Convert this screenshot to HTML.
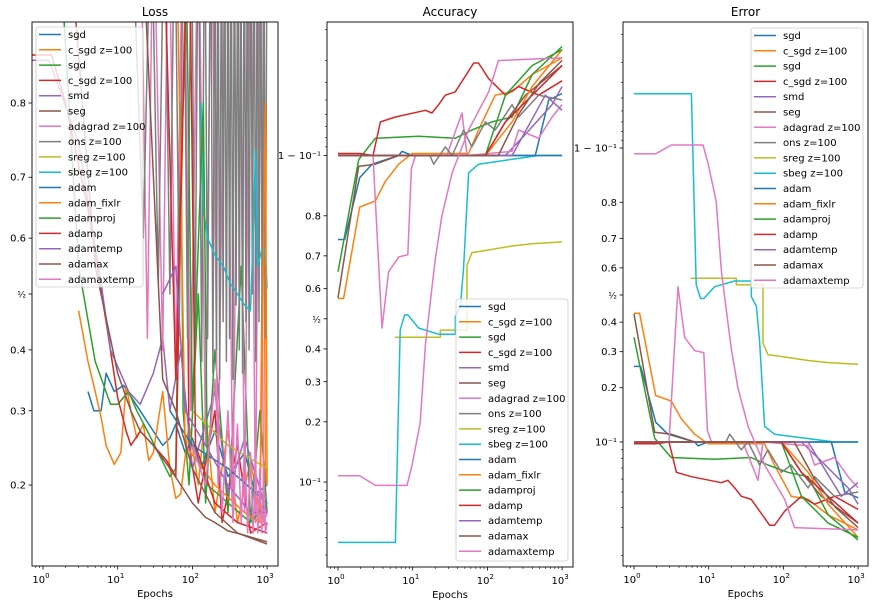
<!DOCTYPE html>
<html><head><meta charset="utf-8"><style>
html,body{margin:0;padding:0;background:#fff;}
svg{display:block;font-family:"DejaVu Sans","Liberation Sans",sans-serif;}
</style></head><body>
<svg id="c" width="875" height="608" viewBox="0 0 875 608" xmlns="http://www.w3.org/2000/svg"></svg>
<script>
// ---------- data ----------
const seriesNames = ["sgd","c_sgd z=100","sgd","c_sgd z=100","smd","seg","adagrad z=100","ons z=100","sreg z=100","sbeg z=100","adam","adam_fixlr","adamproj","adamp","adamtemp","adamax","adamaxtemp"];
const seriesColors = ["#1f77b4","#ff7f0e","#2ca02c","#d62728","#9467bd","#8c564b","#e377c2","#7f7f7f","#bcbd22","#17becf","#1f77b4","#ff7f0e","#2ca02c","#d62728","#9467bd","#8c564b","#e377c2"];
const xTickValues = [1,10,100,1000];
const xTickExps = ["0","1","2","3"];
const lossTickValues = [0.8,0.7,0.6,0.5,0.4,0.3,0.2];
const lossTickLabels = ["0.8","0.7","0.6","½","0.4","0.3","0.2"];
const probTickValues = [0.9,0.8,0.7,0.6,0.5,0.4,0.3,0.2,0.1];
const probTickLabels = ["1 − 10⁻¹","0.8","0.7","0.6","½","0.4","0.3","0.2","10⁻¹"];
const probMinorTicks = [0.91,0.92,0.93,0.94,0.95,0.96,0.97,0.98,0.99,0.01,0.02,0.03,0.04,0.05,0.06,0.07,0.08,0.09];

// Loss series: [epoch, loss]
const lossSgd = [[4,0.33],[4.8,0.30],[6,0.30],[7,0.36],[9,0.33],[12,0.34],[20,0.30],[30,0.27],[40,0.25],[50,0.26],[60,0.28],[80,0.24],[100,0.26],[130,0.22],[200,0.27],[300,0.21],[500,0.24],[700,0.19],[1000,0.20]];
const lossCsgd = [[3,0.47],[4,0.38],[5,0.33],[6,0.29],[7,0.25],[9,0.225],[11,0.24],[13,0.34],[15,0.30],[18,0.26],[22,0.28],[26,0.23],[30,0.24],[40,0.33],[50,0.22],[60,0.185],[70,0.19],[90,0.28],[120,0.20],[150,0.30],[200,0.17],[300,0.27],[400,0.16],[600,0.23],[800,0.17],[900,0.80],[950,0.20],[1000,0.22]];
const lossSgd2 = [[1.5,0.95],[3,0.55],[5,0.38],[8,0.31],[10,0.31],[14,0.33],[18,0.30],[25,0.27],[35,0.24],[50,0.21],[60,0.22],[70,0.80],[75,0.30],[90,0.20],[120,0.50],[150,0.18],[200,0.40],[300,0.17],[450,0.55],[600,0.16],[800,0.30],[1000,0.17]];
const lossCsgd2 = [[0.7,0.85],[1.3,0.85],[2,0.80],[4,0.65],[7,0.45],[10,0.32],[13,0.27],[15,0.25],[20,0.27],[30,0.25],[45,0.23],[60,0.21],[80,0.90],[90,0.25],[120,0.18],[200,0.30],[250,0.16],[400,0.25],[600,0.15],[1000,0.16]];
const lossSmd = [[0.7,0.845],[1.2,0.845],[3,0.75],[6,0.52],[8,0.40],[14,0.33],[20,0.31],[30,0.36],[40,0.42],[50,0.30],[70,0.40],[100,0.22],[200,0.33],[300,0.19],[500,0.26],[1000,0.17]];
const lossSeg = [[2,0.95],[5,0.55],[10,0.36],[15,0.30],[20,0.27],[30,0.25],[50,0.22],[70,0.20],[100,0.18],[150,0.165],[200,0.16],[300,0.152],[500,0.148],[700,0.145],[1000,0.142]];
const lossAdagrad = [[20,0.95],[25,0.42],[30,0.95],[40,0.40],[48,0.95],[60,0.36],[75,0.95],[95,0.30],[120,0.95],[150,0.25],[180,0.95],[220,0.20],[280,0.95],[350,0.18],[420,0.95],[500,0.17],[600,0.95],[700,0.16],[800,0.95],[900,0.16],[1000,0.17]];
const lossOns = [[15,0.95],[22,0.60],[28,0.95],[35,0.52],[42,0.95],[50,0.50],[58,0.95],[67,0.46],[76,0.95],[86,0.42],[97,0.95],[108,0.40],[120,0.95],[133,0.38],[146,0.95],[160,0.42],[175,0.95],[188,0.36],[200,0.95],[210,0.40],[220,0.95],[232,0.35],[245,0.95],[258,0.45],[270,0.95],[285,0.38],[300,0.95],[315,0.42],[330,0.95],[348,0.35],[365,0.95],[385,0.48],[405,0.95],[425,0.40],[445,0.95],[470,0.36],[495,0.95],[520,0.45],[545,0.95],[575,0.40],[605,0.95],[635,0.50],[670,0.95],[705,0.38],[740,0.95],[780,0.45],[820,0.95],[860,0.40],[900,0.95],[950,0.42],[1000,0.95]];
const lossSreg = [[100,0.30],[300,0.25],[1000,0.22]];
const lossSbeg = [[130,0.80],[140,0.65],[160,0.60],[200,0.57],[260,0.55],[320,0.52],[400,0.50],[500,0.48],[600,0.47],[650,0.60],[700,0.74],[750,0.55],[850,0.58],[950,0.58],[1000,0.51]];
const lossAdam = [[50,0.30],[100,0.25],[300,0.22],[1000,0.18]];
const lossAdamFix = [[60,0.95],[80,0.25],[200,0.20],[500,0.17],[800,0.16],[950,0.80],[1000,0.20]];
const lossAdamProj = [[80,0.95],[100,0.30],[140,0.80],[160,0.20],[300,0.18],[600,0.16],[1000,0.18]];
const lossAdamP = [[40,0.95],[60,0.35],[90,0.95],[110,0.25],[200,0.18],[400,0.16],[1000,0.15]];
const lossAdamTemp = [[40,0.50],[60,0.55],[80,0.30],[150,0.25],[300,0.20],[600,0.17],[1000,0.17]];
const lossAdamax = [[20,0.95],[40,0.35],[60,0.30],[100,0.22],[200,0.17],[400,0.15],[1000,0.14]];
const lossAdamaxTemp = [[100,0.25],[150,0.20],[200,0.35],[250,0.17],[300,0.30],[350,0.16],[400,0.28],[450,0.16],[500,0.25],[550,0.15],[600,0.24],[650,0.15],[700,0.23],[750,0.15],[800,0.22],[850,0.15],[900,0.22],[950,0.15],[1000,0.16]];

// Error series: [epoch, error]; accuracy = 1 - error
const errSgd = [[1,0.256],[1.23,0.256],[1.95,0.130],[2.85,0.111],[6.5,0.100],[7.2,0.095],[9.8,0.100],[438,0.100],[662,0.050],[1000,0.046]];
const errCsgd = [[1,0.432],[1.19,0.432],[1.95,0.182],[3.16,0.170],[4.3,0.136],[6.5,0.111],[9.8,0.0976],[56,0.0976],[76,0.073],[127,0.047],[214,0.045],[398,0.036],[1000,0.029]];
const errSgd2 = [[1,0.347],[1.89,0.105],[3.16,0.081],[12,0.079],[37,0.081],[62,0.073],[115,0.066],[214,0.062],[398,0.036],[1000,0.025]];
const errCsgd2 = [[1,0.0976],[1.95,0.0976],[2.94,0.1],[3.69,0.066],[5.86,0.062],[14.8,0.057],[18.1,0.059],[22.3,0.053],[27.3,0.047],[37.2,0.045],[65.5,0.031],[76,0.031],[104,0.038],[174,0.047],[262,0.042],[485,0.047],[1000,0.039]];
const errSmd = [[1,0.1],[174,0.1],[323,0.077],[734,0.053],[1000,0.042]];
const errSeg = [[1,0.43],[1.89,0.114],[3.16,0.111],[6.5,0.1],[94,0.1],[174,0.066],[323,0.047],[1000,0.032]];
const errAdagrad = [[1,0.1],[2.94,0.1],[3.88,0.531],[4.76,0.347],[6.5,0.303],[8.6,0.297],[9.6,0.117],[10.9,0.1],[28.8,0.1],[30,0.095],[45.7,0.059],[53.3,0.1],[214,0.095],[262,0.073],[485,0.081],[734,0.062],[1000,0.053]];
const errOns = [[1,0.1],[17,0.1],[19.1,0.111],[27.3,0.09],[33.7,0.1],[48,0.073],[62,0.09],[94,0.066],[127,0.073],[214,0.053],[262,0.062],[485,0.047],[1000,0.05]];
const errSreg = [[5.74,0.562],[23.4,0.562],[23.4,0.538],[53.3,0.538],[53.3,0.328],[62,0.291],[94,0.285],[214,0.273],[398,0.267],[1000,0.262]];
const errSbeg = [[1,0.953],[5.86,0.953],[6.8,0.538],[7.8,0.487],[8.6,0.487],[12,0.531],[22.3,0.552],[37.2,0.552],[37.2,0.494],[43.5,0.458],[48,0.334],[56,0.123],[76,0.111],[485,0.1],[1000,0.1]];
const errAdam = [[1,0.1],[1000,0.1]];
const errAdamFix = [[1,0.1],[94,0.1],[214,0.066],[398,0.042],[1000,0.026]];
const errAdamProj = [[1,0.1],[94,0.1],[174,0.047],[398,0.032],[1000,0.026]];
const errAdamP = [[1,0.1],[94,0.1],[174,0.066],[398,0.047],[1000,0.032]];
const errAdamTemp = [[1,0.1],[214,0.1],[596,0.047],[1000,0.057]];
const errAdamax = [[1,0.1],[140,0.1],[262,0.06],[500,0.04],[1000,0.03]];
const errAdamaxTemp = [[1,0.892],[1.95,0.892],[3.16,0.904],[8.4,0.904],[9.8,0.878],[12.6,0.802],[14.8,0.588],[17.2,0.444],[20.1,0.309],[24.6,0.2],[33.7,0.123],[56,0.073],[104,0.045],[141,0.030],[1000,0.029]];

const lossSeries = [lossSgd,lossCsgd,lossSgd2,lossCsgd2,lossSmd,lossSeg,lossAdagrad,lossOns,lossSreg,lossSbeg,lossAdam,lossAdamFix,lossAdamProj,lossAdamP,lossAdamTemp,lossAdamax,lossAdamaxTemp];
const errSeries = [errSgd,errCsgd,errSgd2,errCsgd2,errSmd,errSeg,errAdagrad,errOns,errSreg,errSbeg,errAdam,errAdamFix,errAdamProj,errAdamP,errAdamTemp,errAdamax,errAdamaxTemp];

// ---------- drawing ----------
const NS = "http://www.w3.org/2000/svg";
const svg = document.getElementById("c");
function mk(tag, attrs, parent){ const e=document.createElementNS(NS,tag); for(const k in attrs) e.setAttribute(k,attrs[k]); (parent||svg).appendChild(e); return e; }
const logit = v => Math.log(v/(1-v));

const panels = [
 {key:"loss", title:"Loss", L:32, R:278, T:22, B:566, x1:43, c:294, s:137.8, ticks:lossTickValues, labels:lossTickLabels, minor:[], series:lossSeries, val:v=>v, legend:{x:36,y:27,w:107,h:260}},
 {key:"accuracy", title:"Accuracy", L:327, R:573, T:22, B:567, x1:338, c:318.8, s:74.3, ticks:probTickValues, labels:probTickLabels, minor:probMinorTicks, series:errSeries, val:v=>1-v, legend:{x:456,y:299,w:112,h:262}},
 {key:"error", title:"Error", L:623, R:868, T:22, B:566, x1:634, c:295, s:66.9, ticks:probTickValues, labels:probTickLabels, minor:probMinorTicks, series:errSeries, val:v=>v, legend:{x:751,y:28,w:112,h:260}}
];
const DEC = 74.7;

panels.forEach((p, pi) => {
  const g = mk("g", {});
  
  
  const xs = e => p.x1 + DEC*Math.log10(e);
  const ys = v => p.c - p.s*logit(v);
  const cid = "clip"+pi;
  const cp = mk("clipPath", {id:cid}, g);
  mk("rect", {x:p.L, y:p.T, width:p.R-p.L, height:p.B-p.T}, cp);

  const sg = mk("g", {"clip-path":"url(#"+cid+")"}, g);
  p.series.forEach((arr, i) => {
    const d = arr.map((pt,j)=>(j?"L":"M")+xs(pt[0]).toFixed(1)+","+ys(Math.min(0.999,Math.max(0.001,p.val(pt[1])))).toFixed(1)).join("");
    const path = mk("path", {d:d, fill:"none", stroke:seriesColors[i], "stroke-width":1.5, "stroke-linejoin":"round"}, sg);
    
    
  });

  const fr = mk("rect", {x:p.L, y:p.T, width:p.R-p.L, height:p.B-p.T, fill:"none", stroke:"#000", "stroke-width":0.9}, g);
  
  

  for (let dec=-1; dec<=3; dec++) {
    for (let m=1; m<=9; m++) {
      const e = m*Math.pow(10,dec); const x = xs(e);
      if (x < p.L || x > p.R) continue;
      mk("line", {x1:x, x2:x, y1:p.B, y2:p.B+(m===1?3.5:2), stroke:"#000", "stroke-width":m===1?0.8:0.6}, g);
    }
  }
  xTickValues.forEach((v,i) => {
    const t = mk("text", {x:xs(v)-2, y:p.B+17, "font-size":10, "text-anchor":"middle", fill:"#000"}, g);
    
    
    t.textContent = "10";
    const sp = mk("tspan", {dy:-5, "font-size":7}, t); sp.textContent = xTickExps[i];
  });
  const xl = mk("text", {x:(p.L+p.R)/2, y:p.B+31, "font-size":10, "text-anchor":"middle"}, g);
  
  
  xl.textContent = "Epochs";

  p.ticks.forEach((v,i) => {
    const y = ys(v);
    mk("line", {x1:p.L-3.5, x2:p.L, y1:y, y2:y, stroke:"#000", "stroke-width":0.8}, g);
    const t = mk("text", {x:p.L-6, y:y+3.5, "font-size":p.labels[i]==="½"?9:10, "text-anchor":"end"}, g);
    
    
    t.textContent = p.labels[i];
  });
  p.minor.forEach(v => {
    const y = ys(v); if (y < p.T || y > p.B) return;
    mk("line", {x1:p.L-2, x2:p.L, y1:y, y2:y, stroke:"#000", "stroke-width":0.6}, g);
  });

  const tt = mk("text", {x:(p.L+p.R)/2, y:16, "font-size":12, "text-anchor":"middle"}, g);
  
  
  tt.textContent = p.title;

  const lg = mk("g", {}, g);
  
  
  mk("rect", {x:p.legend.x, y:p.legend.y, width:p.legend.w, height:p.legend.h, rx:2.5, fill:"#fff", "fill-opacity":0.8, stroke:"#ccc", "stroke-width":0.8}, lg);
  seriesNames.forEach((n,i) => {
    const y = p.legend.y + 7.5 + i*15.3;
    const le = mk("g", {}, lg);
    
    
    mk("line", {x1:p.legend.x+3, x2:p.legend.x+25, y1:y, y2:y, stroke:seriesColors[i], "stroke-width":1.5}, le);
    const t = mk("text", {x:p.legend.x+32, y:y+3.5, "font-size":10}, le);
    t.textContent = n;
  });
});
</script>
</body></html>
